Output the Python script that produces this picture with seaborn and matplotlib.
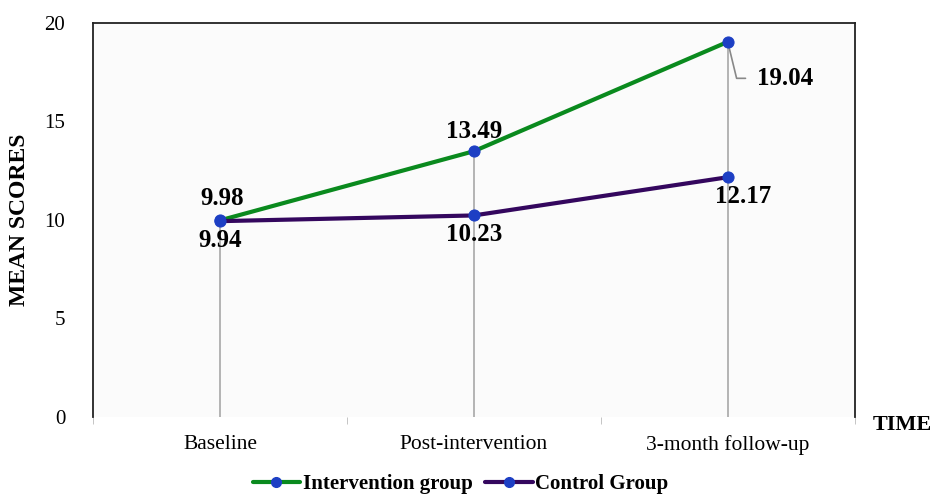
import matplotlib
matplotlib.use("Agg")
import matplotlib.pyplot as plt
from matplotlib.lines import Line2D
import seaborn as sns
import pandas as pd

# Mean scores by time point
time_points = ["Baseline", "Post-intervention", "3-month follow-up"]
intervention = [9.98, 13.49, 19.04]
control = [9.94, 10.23, 12.17]
group_names = ["Intervention group", "Control Group"]

df = pd.DataFrame({
    "TIME": time_points * 2,
    "score": intervention + control,
    "group": [group_names[0]] * 3 + [group_names[1]] * 3,
})

sns.set_style("white")
plt.rcParams["font.family"] = ["Liberation Serif", "DejaVu Serif"]
plt.rcParams["text.color"] = "black"
plt.rcParams["xtick.color"] = "black"
plt.rcParams["ytick.color"] = "black"
plt.rcParams["axes.labelcolor"] = "black"

fig = plt.figure(figsize=(9.3, 4.95), dpi=100)
ax = fig.add_axes([0.1, 0.1576, 0.819, 0.796])
ax.set_facecolor("#fbfbfb")

palette = {group_names[0]: "#0a8a1e", group_names[1]: "#34075e"}
marker_color = "#1d3fc4"
sns.lineplot(data=df, x="TIME", y="score", hue="group", palette=palette,
             marker="o", markersize=8, markerfacecolor=marker_color,
             markeredgecolor=marker_color, linewidth=3, sort=False, ax=ax,
             legend=False, zorder=3)

# vertical drop lines from the top point of each time point
xs = range(len(time_points))
for i in xs:
    top = max(intervention[i], control[i])
    ax.vlines(i, 0, top, color="#a8a8a8", linewidth=1.2, zorder=1)

ax.set_xlim(-0.5, 2.5)
ax.set_ylim(0, 20)
ax.set_yticks([0, 5, 10, 15, 20])
ax.set_xticks(list(xs))
ax.set_xticklabels(time_points, fontsize=15.5)
ax.tick_params(axis="x", length=0, pad=13)
ax.tick_params(axis="y", length=0, pad=20, labelsize=15)
# small ticks at category boundaries
ax.set_xticks([-0.5, 0.5, 1.5, 2.5], minor=True)
ax.tick_params(axis="x", which="minor", length=5, color="#bbbbbb", direction="out")
ax.xaxis.set_ticks_position("bottom")

for s in ["top", "right", "left"]:
    ax.spines[s].set_color("#222222")
    ax.spines[s].set_linewidth(1.3)
ax.spines["bottom"].set_visible(False)

ax.set_xlabel("")
ax.set_ylabel("MEAN SCORES", fontsize=17, fontweight="bold", labelpad=10)
fig.text(0.97, 0.141, "TIME", fontsize=16, fontweight="bold", ha="center", va="center")

# value labels
lbl = dict(fontsize=18, fontweight="bold", zorder=5)
ax.text(0.01, intervention[0] + 0.55, f"{intervention[0]:.2f}", ha="center", va="bottom", **lbl)
ax.text(0.0, control[0] - 0.4, f"{control[0]:.2f}", ha="center", va="top", **lbl)
ax.text(1.0, intervention[1] + 0.4, f"{intervention[1]:.2f}", ha="center", va="bottom", **lbl)
ax.text(1.0, control[1] - 0.4, f"{control[1]:.2f}", ha="center", va="top", **lbl)
ax.text(2.06, control[2] - 0.4, f"{control[2]:.2f}", ha="center", va="top", **lbl)

# leader line to the follow-up intervention label
lx, ly = 2, intervention[2]
ax.plot([lx, lx + 0.035, lx + 0.07], [ly, ly - 1.85, ly - 1.85],
        color="#888888", lw=1.2, zorder=2)
ax.text(lx + 0.115, ly - 1.85, f"{intervention[2]:.2f}", ha="left", va="center", **lbl)

# legend
handles = [Line2D([], [], color=palette[g], lw=3, marker="o", markersize=7,
                  markerfacecolor=marker_color, markeredgecolor=marker_color)
           for g in group_names]
fig.legend(handles, group_names, loc="center", bbox_to_anchor=(0.495, 0.022),
           ncol=2, frameon=False, handlelength=2.3, handletextpad=0.1,
           columnspacing=0.6, prop={"family": "Liberation Serif", "weight": "bold", "size": 15})

fig.savefig("out.png", dpi=100, facecolor="white")
